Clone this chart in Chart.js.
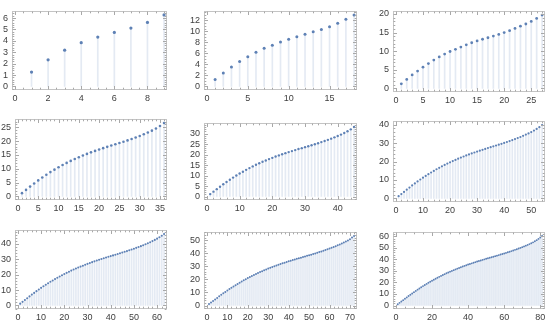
<!DOCTYPE html>
<html lang="en">
<head>
<meta charset="UTF-8">
<title>Stem plots</title>
<script src="https://cdn.jsdelivr.net/npm/chart.js"></script>
<style>
  html, body { margin: 0; padding: 0; background: #fff; }
  body { width: 550px; height: 321px; position: relative; overflow: hidden; }
  canvas { position: absolute; }
</style>
</head>
<body>
<script>
// values (x runs 1..n)
const values9 = [1.26, 2.33, 3.18, 3.84, 4.33, 4.74, 5.12, 5.62, 6.27];
const values18 = [1.25, 2.44, 3.52, 4.55, 5.4, 6.2, 6.93, 7.5, 8.07, 8.58, 9.03, 9.49, 9.94, 10.34, 10.85, 11.48, 12.2, 13.0];
const values27 = [1.2, 2.4, 3.6, 4.65, 5.7, 6.65, 7.6, 8.45, 9.2, 9.9, 10.5, 11.1, 11.7, 12.25, 12.75, 13.2, 13.6, 14.05, 14.5, 15.0, 15.5, 16.1, 16.7, 17.3, 18.0, 18.8, 19.7];
const values36 = [1.15, 2.33, 3.52, 4.66, 5.76, 6.82, 7.80, 8.76, 9.65, 10.53, 11.32, 12.10, 12.82, 13.50, 14.15, 14.75, 15.35, 15.91, 16.43, 16.95,
  17.42, 17.90, 18.36, 18.82, 19.28, 19.75, 20.23, 20.75, 21.28, 21.84, 22.43, 23.07, 23.76, 24.54, 25.43, 26.50];
const values45 = [1.16, 2.32, 3.51, 4.68, 5.82, 6.93, 8.00, 9.03, 9.99, 10.95, 11.84, 12.72, 13.55, 14.35, 15.12, 15.84, 16.55, 17.19, 17.83, 18.43,
  19.05, 19.61, 20.15, 20.67, 21.18, 21.66, 22.14, 22.62, 23.07, 23.53, 23.99, 24.45, 24.93, 25.42, 25.94, 26.46, 27.02, 27.58, 28.20, 28.84,
  29.52, 30.27, 31.10, 32.03, 33.20];
const values54 = [1.16, 2.32, 3.49, 4.69, 5.85, 6.99, 8.11, 9.18, 10.23, 11.22, 12.18, 13.14, 14.03, 14.91, 15.79, 16.58, 17.38, 18.14, 18.87, 19.58,
  20.24, 20.88, 21.52, 22.12, 22.72, 23.31, 23.87, 24.39, 24.91, 25.42, 25.90, 26.37, 26.86, 27.33, 27.77, 28.24, 28.70, 29.15, 29.63, 30.11,
  30.61, 31.13, 31.65, 32.20, 32.76, 33.33, 33.97, 34.61, 35.28, 36.00, 36.80, 37.69, 38.65, 39.80];
const values63 = [1.16, 2.32, 3.48, 4.67, 5.86, 7.02, 8.15, 9.27, 10.35, 11.40, 12.45, 13.41, 14.37, 15.33, 16.22, 17.10, 17.98, 18.81, 19.61, 20.41,
  21.17, 21.89, 22.61, 23.30, 23.94, 24.58, 25.21, 25.81, 26.41, 27.01, 27.57, 28.10, 28.63, 29.14, 29.65, 30.13, 30.61, 31.09, 31.57, 32.03,
  32.47, 32.95, 33.41, 33.85, 34.33, 34.81, 35.29, 35.80, 36.32, 36.84, 37.38, 37.94, 38.50, 39.09, 39.73, 40.38, 41.04, 41.76, 42.54, 43.36,
  44.28, 45.27, 46.40];
const values72 = [1.16, 2.32, 3.48, 4.65, 5.85, 7.03, 8.19, 9.32, 10.44, 11.52, 12.59, 13.63, 14.64, 15.60, 16.56, 17.52, 18.42, 19.30, 20.17, 21.05,
  21.84, 22.64, 23.44, 24.19, 24.91, 25.63, 26.35, 26.99, 27.63, 28.30, 28.90, 29.50, 30.10, 30.69, 31.26, 31.82, 32.34, 32.86, 33.39, 33.89,
  34.37, 34.85, 35.33, 35.81, 36.29, 36.72, 37.17, 37.66, 38.12, 38.56, 39.02, 39.51, 39.98, 40.46, 40.98, 41.51, 42.03, 42.56, 43.12, 43.68,
  44.24, 44.86, 45.50, 46.14, 46.80, 47.52, 48.27, 49.07, 49.94, 50.90, 52.10, 53.40];
const values81 = [1.16, 2.32, 3.48, 4.64, 5.83, 7.04, 8.20, 9.36, 10.48, 11.61, 12.69, 13.77, 14.81, 15.85, 16.83, 17.79, 18.75, 19.71, 20.61, 21.49,
  22.37, 23.25, 24.07, 24.87, 25.67, 26.47, 27.22, 27.94, 28.66, 29.38, 30.04, 30.69, 31.32, 31.97, 32.59, 33.19, 33.79, 34.38, 34.96, 35.52,
  36.06, 36.58, 37.11, 37.62, 38.13, 38.60, 39.08, 39.56, 40.04, 40.52, 40.99, 41.43, 41.89, 42.36, 42.83, 43.27, 43.72, 44.20, 44.68, 45.16,
  45.65, 46.17, 46.70, 47.21, 47.74, 48.30, 48.86, 49.42, 49.99, 50.63, 51.27, 51.91, 52.56, 53.28, 54.00, 54.80, 55.70, 56.70, 57.80, 59.00,
  60.40];

// major tick spacing per panel
const xTickSteps = [2, 5, 5, 5, 10, 10, 10, 10, 20];
const yTickSteps = [1, 2, 5, 5, 5, 10, 10, 10, 10];

const allSeries = [values9, values18, values27, values36, values45, values54, values63, values72, values81];

// plot-area boxes [left, top, right, bottom] on the page
const boxes = [
  [12, 5, 167, 90], [204, 5, 357, 90], [393, 5, 545, 92],
  [15, 113, 167, 200], [204, 117, 357, 200], [393, 115, 545, 202],
  [15, 224, 167, 309], [204, 226, 357, 309], [393, 226, 545, 309]
];
const pointSizes = [1.6, 1.5, 1.4, 1.3, 1.2, 1.1, 1.05, 1.0, 0.95];

const AXIS_W = 24, AXIS_H = 14, PAD_T = 3, PAD_R = 4;
const labelFont = { family: 'Liberation Sans, Arial, sans-serif', size: 9 };

function majorTicks(max, step) {
  const out = [];
  for (let v = 0; v <= max + 1e-9; v += step) out.push({ value: v });
  return out;
}

// Mathematica-like frame with inward ticks on all four sides
const framePlugin = {
  id: 'frame',
  afterDraw(chart) {
    const { ctx, chartArea: a, scales } = chart;
    const o = chart.options.plugins.frame;
    const l = Math.round(a.left) + 0.5, r = Math.round(a.right) - 0.5;
    const t = Math.round(a.top) + 0.5, b = Math.round(a.bottom) - 0.5;
    ctx.save();
    ctx.strokeStyle = '#c4c4c4';
    ctx.lineWidth = 1;
    ctx.strokeRect(l, t, r - l, b - t);
    ctx.strokeStyle = '#a8a8a8';
    const marks = (scale, step, horiz) => {
      const sub = (step === 2 || step === 20) ? 4 : 5;
      const ms = step / sub;
      const start = Math.ceil(scale.min / ms);
      for (let i = start; i * ms <= scale.max + 1e-9; i++) {
        const v = i * ms;
        const len = (i % sub === 0) ? 3.5 : 1.8;
        const p = Math.round(scale.getPixelForValue(v)) + 0.5;
        ctx.beginPath();
        if (horiz) {
          ctx.moveTo(p, b); ctx.lineTo(p, b - len);
          ctx.moveTo(p, t); ctx.lineTo(p, t + len);
        } else {
          ctx.moveTo(l, p); ctx.lineTo(l + len, p);
          ctx.moveTo(r, p); ctx.lineTo(r - len, p);
        }
        ctx.stroke();
      }
    };
    marks(scales.x, o.xStep, true);
    marks(scales.y, o.yStep, false);
    ctx.restore();
  }
};

allSeries.forEach((vals, idx) => {
  const [L, T, R, B] = boxes[idx];
  const n = vals.length;
  const ymax = Math.max(...vals);
  const pts = vals.map((v, i) => ({ x: i + 1, y: v }));

  const cv = document.createElement('canvas');
  const w = (R - L) + AXIS_W + PAD_R;
  const h = (B - T) + PAD_T + AXIS_H;
  cv.width = w; cv.height = h;
  cv.style.left = (L - AXIS_W) + 'px';
  cv.style.top = (T - PAD_T) + 'px';
  cv.style.width = w + 'px';
  cv.style.height = h + 'px';
  document.body.appendChild(cv);

  new Chart(cv, {
    type: 'bar',
    data: {
      datasets: [
        {
          type: 'scatter',
          data: pts,
          backgroundColor: '#5e81b5',
          borderWidth: 0,
          pointRadius: pointSizes[idx],
          order: 0
        },
        {
          type: 'bar',
          data: pts,
          backgroundColor: 'rgba(94, 129, 181, 0.17)',
          barThickness: 1,
          order: 1
        }
      ]
    },
    options: {
      responsive: false,
      animation: false,
      devicePixelRatio: 1,
      layout: { padding: { top: PAD_T, right: PAD_R, left: 0, bottom: 0 }, autoPadding: false },
      plugins: {
        legend: { display: false },
        tooltip: { enabled: false },
        frame: { xStep: xTickSteps[idx], yStep: yTickSteps[idx] }
      },
      scales: {
        x: {
          type: 'linear',
          offset: false,
          min: -0.02 * n,
          max: 1.02 * n,
          grid: { display: false, drawTicks: false },
          border: { display: false },
          ticks: { font: labelFont, color: '#404040', padding: 3, maxRotation: 0, autoSkip: false },
          afterBuildTicks: s => { s.ticks = majorTicks(s.max, xTickSteps[idx]); },
          afterFit: s => { s.height = AXIS_H; }
        },
        y: {
          min: -0.05 * ymax,
          max: 1.05 * ymax,
          grid: { display: false, drawTicks: false },
          border: { display: false },
          ticks: { font: labelFont, color: '#404040', padding: 4, autoSkip: false },
          afterBuildTicks: s => { s.ticks = majorTicks(s.max, yTickSteps[idx]); },
          afterFit: s => { s.width = AXIS_W; }
        }
      }
    },
    plugins: [framePlugin]
  });
});
</script>
</body>
</html>
